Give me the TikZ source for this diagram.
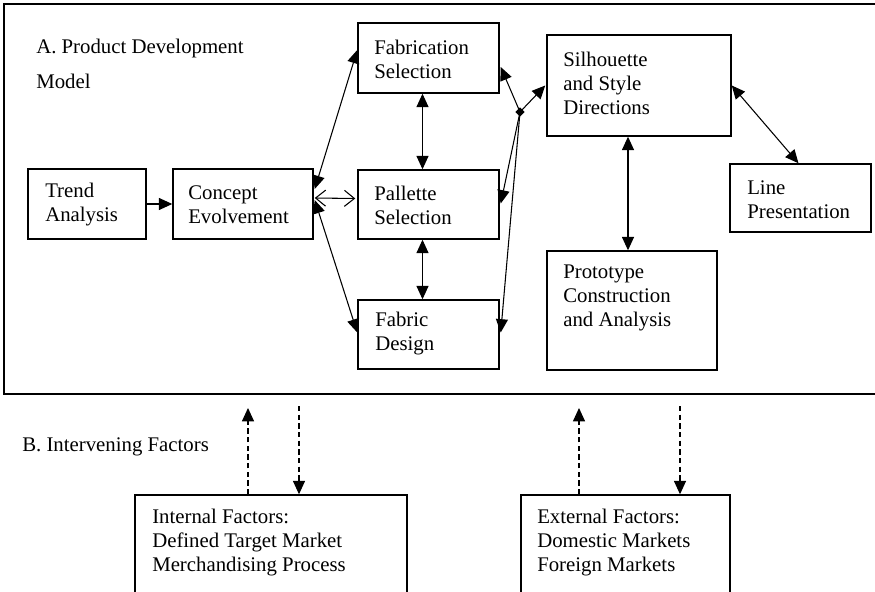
\documentclass[tikz,border=0pt]{standalone}
\usepackage{fontspec}
\setmainfont{Liberation Serif}
\usetikzlibrary{arrows.meta,calc,fit,shapes.geometric}

\begin{document}
\begin{tikzpicture}[
  x=0.75pt, y=-0.75pt,
  every node/.style={font=\fontsize{15.6pt}{18pt}\selectfont},
  box/.style={draw, line width=1.1pt, rectangle, inner sep=0pt},
  txt/.style={inner sep=0pt, anchor=west, align=left},
  link/.style={line width=0.8pt},
  arr/.style={link, -{Triangle[length=10pt,width=9pt]}},
  dbl/.style={link, {Triangle[length=10pt,width=9pt]}-{Triangle[length=10pt,width=9pt]}},
  openarr/.style={link, {Straight Barb[length=7.5pt,width=12pt,line width=0.8pt]}-{Straight Barb[length=7.5pt,width=12pt,line width=0.8pt]}},
  dasharr/.style={link, dash pattern=on 4pt off 2.5pt, -{Triangle[length=10pt,width=9pt]}},
  frame/.style={draw, line width=1.1pt},
]
\useasboundingbox (0,0) rectangle (875,592);
\clip (0,0) rectangle (875,592);

% outer frame of part A (runs past the right edge)
\draw[frame] (4,4) rectangle (885,394);

% part A boxes
\node[box, fit={(28,169) (146,239)}] (trend) {};
\node[box, fit={(173,169) (313,239)}] (concept) {};
\node[box, fit={(358,23) (499,93)}] (fabrication) {};
\node[box, fit={(358,170) (499,239)}] (pallette) {};
\node[box, fit={(358,300) (499,369)}] (fabric) {};
\node[box, fit={(547,35) (731,136)}] (silhouette) {};
\node[box, fit={(730,164) (871,232)}] (line) {};
\node[box, fit={(547,251) (717,370)}] (prototype) {};

% part B boxes (run past the bottom edge)
\node[box, fit={(135,495) (407,600)}] (internal) {};
\node[box, fit={(521,495) (730,600)}] (external) {};

% texts
\node[txt] (titleA) at (36,64) {A. Product Development\\[8pt]Model};
\node[txt] (titleB) at (22,447) {B. Intervening Factors};
\node[txt] (trendtext) at (45,205) {Trend\\Analysis};
\node[txt] (concepttext) at (188,205) {Concept\\Evolvement};
\node[txt] (fabricationtext) at (374,59) {Fabrication\\Selection};
\node[txt] (pallettetext) at (374,205) {Pallette\\Selection};
\node[txt] (fabrictext) at (375,334) {Fabric\\Design};
\node[txt] (silhouettetext) at (563,83) {Silhouette\\and Style\\Directions};
\node[txt] (linetext) at (747,200) {Line\\Presentation};
\node[txt] (prototypetext) at (563,298) {Prototype\\Construction\\and Analysis};
\node[txt] (internaltext) at (152,543) {Internal Factors:\\Defined Target Market\\Merchandising Process};
\node[txt] (externaltext) at (537,543) {External Factors:\\Domestic Markets\\Foreign Markets};

% connectors of part A
\draw[arr] (trend) -- (concept);
\draw[openarr] ($(concept.east)+(1,-6)$) -- ($(pallette.west)+(-2,-6)$);
\draw[dbl] ($(concept.east)+(1,-15)$) -- ($(fabrication.west)+(0,-8)$);
\draw[dbl] ($(concept.east)+(1,-4)$) -- ($(fabric.west)+(0,-2)$);
\draw[dbl] ([xshift=-4.5pt]fabrication.south) -- ([xshift=-4.5pt]pallette.north);
\draw[dbl] ([xshift=-4.5pt]pallette.south) -- ([xshift=-4.5pt]fabric.north);

\coordinate (hub) at (520,112);
\draw[arr] (hub) -- ($(fabrication.east)+(1,9)$);
\draw[arr] (hub) -- ($(silhouette.west)+(-1,0)$);
\draw[arr] (hub) -- ($(pallette.east)+(1,-1)$);
\draw[arr] (hub) -- ($(fabric.east)+(1,-2)$);
\node[diamond, fill, inner sep=0pt, minimum size=7pt] (hubmark) at (hub) {};

\draw[dbl] (silhouette.east) -- ([xshift=-1.5pt]line.north);
\draw[dbl] ([xshift=-3pt]prototype.north |- silhouette.south) -- ([xshift=-3pt]prototype.north);

% connectors between parts A and B
\coordinate (inUp) at (248,408);
\coordinate (inDown) at (299,406);
\coordinate (exUp) at (579,408);
\coordinate (exDown) at (680,406);
\draw[dasharr] (inUp |- internal.north) -- (inUp);
\draw[dasharr] (inDown) -- (inDown |- internal.north);
\draw[dasharr] (exUp |- external.north) -- (exUp);
\draw[dasharr] (exDown) -- (exDown |- external.north);
\end{tikzpicture}
\end{document}
